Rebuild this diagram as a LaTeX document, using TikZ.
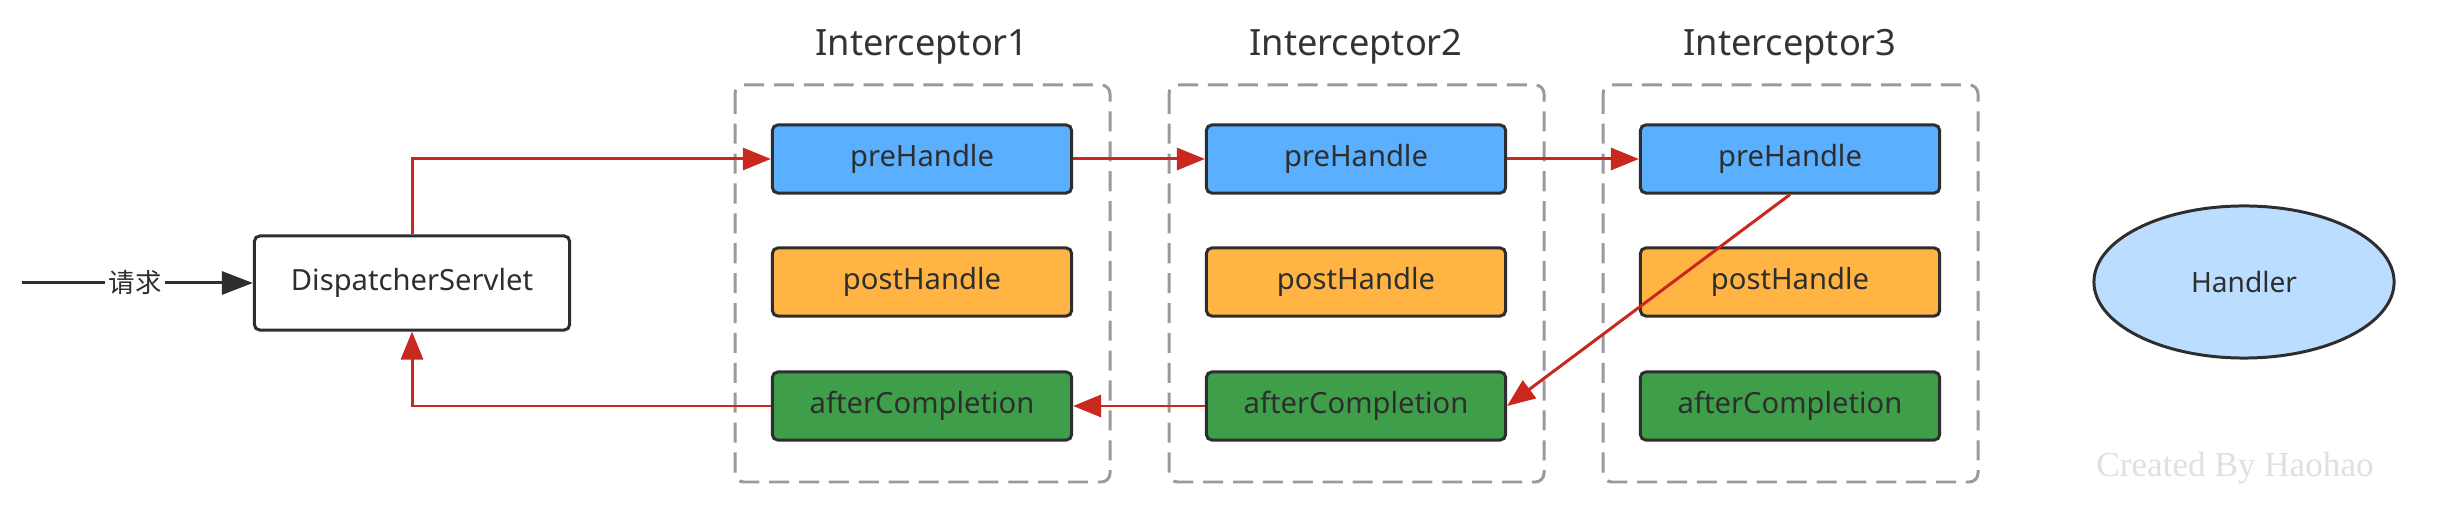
\documentclass[tikz,border=0pt]{standalone}
\usepackage{fontspec}
\setmainfont{Noto Sans}
\newfontfamily\cjk{Noto Sans CJK SC}
\newfontfamily\wmfont{Liberation Serif}
\usepackage{xcolor}
\usepackage{tikz}
\usetikzlibrary{
    positioning,
    arrows.meta,
    calc,
    shapes.geometric
}

\definecolor{preblue}{HTML}{5AAFFF}
\definecolor{postorange}{HTML}{FFB444}
\definecolor{aftergreen}{HTML}{3E9E4A}
\definecolor{handlerblue}{HTML}{BBDDFF}
\definecolor{flowred}{HTML}{C8281E}
\definecolor{framegray}{HTML}{9A9A9A}
\definecolor{linedark}{HTML}{2E2E2E}

\begin{document}
\begin{tikzpicture}[x=0.01cm, y=-0.01cm,
    box/.style={draw=linedark, line width=0.85pt, rounded corners=1.5pt,
        minimum width=2.99cm, minimum height=0.68cm, inner sep=0pt,
        font=\fontsize{8.3}{10}\selectfont, text=linedark},
    frame/.style={draw=framegray, line width=0.85pt,
        dash pattern=on 5.7pt off 2.8pt, rounded corners=2.5pt},
    flow/.style={draw=flowred, line width=0.85pt,
        -{Triangle[length=0.28cm, width=0.22cm]}},
    title/.style={font=\fontsize{10.3}{12}\selectfont, text=black!80}]
            \useasboundingbox (0,0) rectangle (2449,516);
            % インターセプタ
            \foreach \i/\x in {1/922, 2/1356, 3/1790} {
                \draw[frame] (\x-187,85) rectangle (\x+188,482);
                \node[title] (T\i) at (\x,47) {Interceptor\i};
                \node[box, fill=preblue] (pre\i) at (\x,159) {preHandle};
                \node[box, fill=postorange] (post\i) at (\x,282) {postHandle};
                \node[box, fill=aftergreen] (ac\i) at (\x,406) {afterCompletion};
            }
            \coordinate (S) at (22,283);
            \node[box, fill=white, minimum width=3.15cm, minimum height=0.94cm] (DS) at (412,283) {DispatcherServlet};
            \node[ellipse, draw=linedark, line width=0.85pt, fill=handlerblue,
                minimum width=3cm, minimum height=1.52cm, inner sep=0pt,
                font=\fontsize{8}{10}\selectfont, text=linedark] (H) at (2244,282) {Handler};
            \node[font=\wmfont\fontsize{10}{12}\selectfont, text=black!12] (W) at (2235,468) {Created By Haohao};
            % 矢印
            \draw[line width=0.85pt, draw=linedark, -{Triangle[length=0.31cm, width=0.23cm]}]
                (S) -- node[pos=0.49, fill=white, inner sep=1pt, text=linedark,
                    font=\cjk\fontsize{7.5}{9}\selectfont] {请求} (DS.west);
            \draw[flow] (DS.north) |- (pre1.west);
            \draw[flow] (pre1.east) -- (pre2.west);
            \draw[flow] (pre2.east) -- (pre3.west);
            \draw[flow] (pre3.south) -- (ac2.east);
            \draw[flow] (ac2.west) -- (ac1.east);
            \draw[flow] (ac1.west) -| (DS.south);
        \end{tikzpicture}
\end{document}
